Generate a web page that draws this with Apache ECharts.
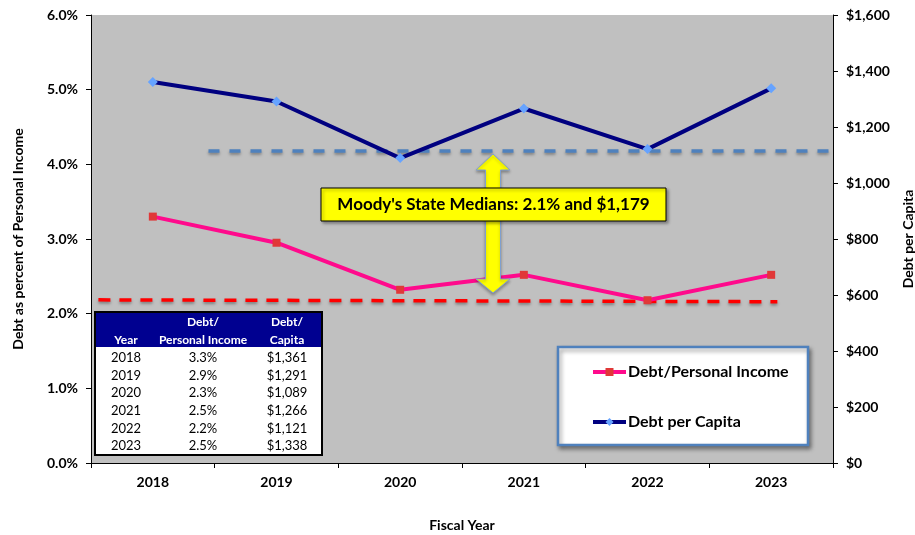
<!DOCTYPE html>
<html>
<head>
<meta charset="utf-8">
<script src="https://cdn.jsdelivr.net/npm/echarts@6/dist/echarts.min.js"></script>
<style>
  html, body { margin: 0; padding: 0; background: #fff; }
  #chart-container { width: 915px; height: 535px; }
</style>
</head>
<body>
<div id="chart-container"></div>
<script>
// data
const years = ["2018", "2019", "2020", "2021", "2022", "2023"];
const debtIncome = [3.3, 2.95, 2.32, 2.52, 2.18, 2.52];
const debtCapita = [1361, 1291, 1089, 1266, 1121, 1338];
const tableIncome = ["3.3%", "2.9%", "2.3%", "2.5%", "2.2%", "2.5%"];
// median reference lines, on a hidden 0..6 x scale spanning the plot
const incomeMedianLine = [[0.06, 2.185], [5.55, 2.16]];
const capitaMedianLine = [[0.95, 1114], [6, 1114]];

const FONT = "Lato";

/**
 * Build the small data table drawn in the lower left of the plot.
 */
function buildTable() {
  const x0 = 95, y0 = 312, w = 227, h = 143;
  const cols = [126, 203, 287];
  const els = [
    { type: "rect", shape: { x: x0, y: y0, width: w, height: h },
      style: { fill: "#fff", stroke: "#000", lineWidth: 2 }, z: 100 },
    { type: "rect", shape: { x: x0 + 1, y: y0 + 1, width: w - 2, height: 34 },
      style: { fill: "#000090" }, z: 101 },
  ];
  const hdr = (text, x, y) => ({
    type: "text", z: 102, x, y,
    style: { text, fill: "#fff", font: "bold 12px " + FONT, align: "center", verticalAlign: "middle" },
  });
  els.push(hdr("Debt/", cols[1], 322), hdr("Debt/", cols[2], 322));
  els.push(hdr("Year", cols[0], 340), hdr("Personal Income", cols[1], 340), hdr("Capita", cols[2], 340));
  years.forEach((y, i) => {
    const ry = 358 + i * 17.6;
    const cells = [y, tableIncome[i], "$" + debtCapita[i].toLocaleString("en-US")];
    cells.forEach((t, c) => {
      els.push({
        type: "text", z: 102, x: cols[c], y: ry,
        style: { text: t, fill: "#000", font: "13px " + FONT, align: "center", verticalAlign: "middle" },
      });
    });
  });
  return els;
}

const dom = document.getElementById("chart-container");
const chart = echarts.init(dom, null, { renderer: "canvas" });

const axisLabelStyle = { color: "#000", fontFamily: FONT, fontWeight: "bold", fontSize: 14 };
const axisNameStyle = { color: "#000", fontFamily: FONT, fontWeight: "bold", fontSize: 14 };

const option = {
  animation: false,
  textStyle: { fontFamily: FONT },
  grid: {
    left: 91, right: 82, top: 15, bottom: 72,
    outerBoundsMode: "none",
    containLabel: false,
    show: true, backgroundColor: "#C0C0C0", borderWidth: 0,
  },
  legend: {
    orient: "vertical",
    left: 591, top: 364,
    itemWidth: 33, itemHeight: 10, itemGap: 34, padding: 0,
    lineStyle: { width: 4 },
    textStyle: { color: "#000", fontFamily: FONT, fontWeight: "bold", fontSize: 16, padding: [0, 0, 0, -3] },
    data: ["Debt/Personal Income", "Debt per Capita"],
    z: 200,
  },
  xAxis: [
    {
      type: "category",
      data: years,
      boundaryGap: true,
      axisLine: { lineStyle: { color: "#000", width: 1 } },
      axisTick: { show: true, length: 5, lineStyle: { color: "#000" } },
      axisLabel: Object.assign({ margin: 12 }, axisLabelStyle),
      name: "Fiscal Year",
      nameLocation: "middle",
      nameGap: 55,
      nameTextStyle: axisNameStyle,
    },
    { type: "value", min: 0, max: 6, show: false },
  ],
  yAxis: [
    {
      type: "value", min: 0, max: 6, interval: 1,
      axisLine: { show: true, lineStyle: { color: "#000" } },
      axisTick: { show: true, length: 5, lineStyle: { color: "#000" } },
      splitLine: { show: false },
      axisLabel: Object.assign({ margin: 13, formatter: (v) => v.toFixed(1) + "%" }, axisLabelStyle),
      name: "Debt as percent of Personal Income",
      nameLocation: "middle",
      nameRotate: 90,
      nameGap: 66,
      nameTextStyle: axisNameStyle,
    },
    {
      type: "value", min: 0, max: 1600, interval: 200,
      position: "right",
      axisLine: { show: true, lineStyle: { color: "#000" } },
      axisTick: { show: true, length: 5, lineStyle: { color: "#000" } },
      splitLine: { show: false },
      axisLabel: Object.assign({ margin: 13, formatter: (v) => "$" + v.toLocaleString("en-US") }, axisLabelStyle),
      name: "Debt per Capita",
      nameLocation: "middle",
      nameRotate: 90,
      nameGap: 68,
      nameTextStyle: axisNameStyle,
    },
  ],
  series: [
    {
      name: "Income Median", type: "line", xAxisIndex: 1, yAxisIndex: 0,
      data: incomeMedianLine, symbol: "none", silent: true,
      lineStyle: { color: "#FF0000", width: 3.5, type: [12, 9],
        shadowColor: "rgba(0,0,0,0.35)", shadowBlur: 3, shadowOffsetY: 2 },
      z: 3,
    },
    {
      name: "Capita Median", type: "line", xAxisIndex: 1, yAxisIndex: 1,
      data: capitaMedianLine, symbol: "none", silent: true,
      lineStyle: { color: "#4F81BD", width: 3.5, type: [11, 10],
        shadowColor: "rgba(0,0,0,0.35)", shadowBlur: 3, shadowOffsetY: 2 },
      z: 3,
    },
    {
      name: "Debt/Personal Income", type: "line", yAxisIndex: 0,
      data: debtIncome,
      symbol: "rect", symbolSize: 8,
      itemStyle: { color: "#E03838" },
      lineStyle: { color: "#FF0A8C", width: 4 },
      z: 5,
    },
    {
      name: "Debt per Capita", type: "line", yAxisIndex: 1,
      data: debtCapita,
      symbol: "diamond", symbolSize: 10,
      itemStyle: { color: "#66A3FF" },
      lineStyle: { color: "#000080", width: 4 },
      z: 5,
    },
  ],
  graphic: [
    // median arrow
    {
      type: "polygon", z: 100,
      shape: { points: [
        [493, 154], [510, 170], [500.5, 170], [500.5, 279], [510, 279],
        [493, 293], [476, 279], [485.5, 279], [485.5, 170], [476, 170],
      ] },
      style: { fill: "#FFFF00", stroke: "#7F9FCF", lineWidth: 1,
        shadowColor: "rgba(0,0,0,0.3)", shadowBlur: 3, shadowOffsetY: 2 },
    },
    {
      type: "rect", z: 110,
      shape: { x: 321, y: 188, width: 345, height: 33 },
      style: { fill: "#FFFF00", stroke: "#000", lineWidth: 1,
        shadowColor: "rgba(0,0,0,0.35)", shadowBlur: 3, shadowOffsetX: 2, shadowOffsetY: 2 },
    },
    {
      type: "text", z: 111, x: 493.5, y: 205,
      style: { text: "Moody's State Medians: 2.1% and $1,179", fill: "#000",
        font: "bold 17px " + FONT, align: "center", verticalAlign: "middle" },
    },
    // legend frame
    {
      type: "rect", z: 150,
      shape: { x: 558, y: 347, width: 250, height: 98 },
      style: { fill: "#fff", stroke: "#4F81BD", lineWidth: 2.5,
        shadowColor: "rgba(0,0,0,0.4)", shadowBlur: 4, shadowOffsetX: 2, shadowOffsetY: 3 },
    },
    ...buildTable(),
  ],
};

chart.setOption(option);
window.addEventListener("resize", () => chart.resize());
</script>
</body>
</html>
